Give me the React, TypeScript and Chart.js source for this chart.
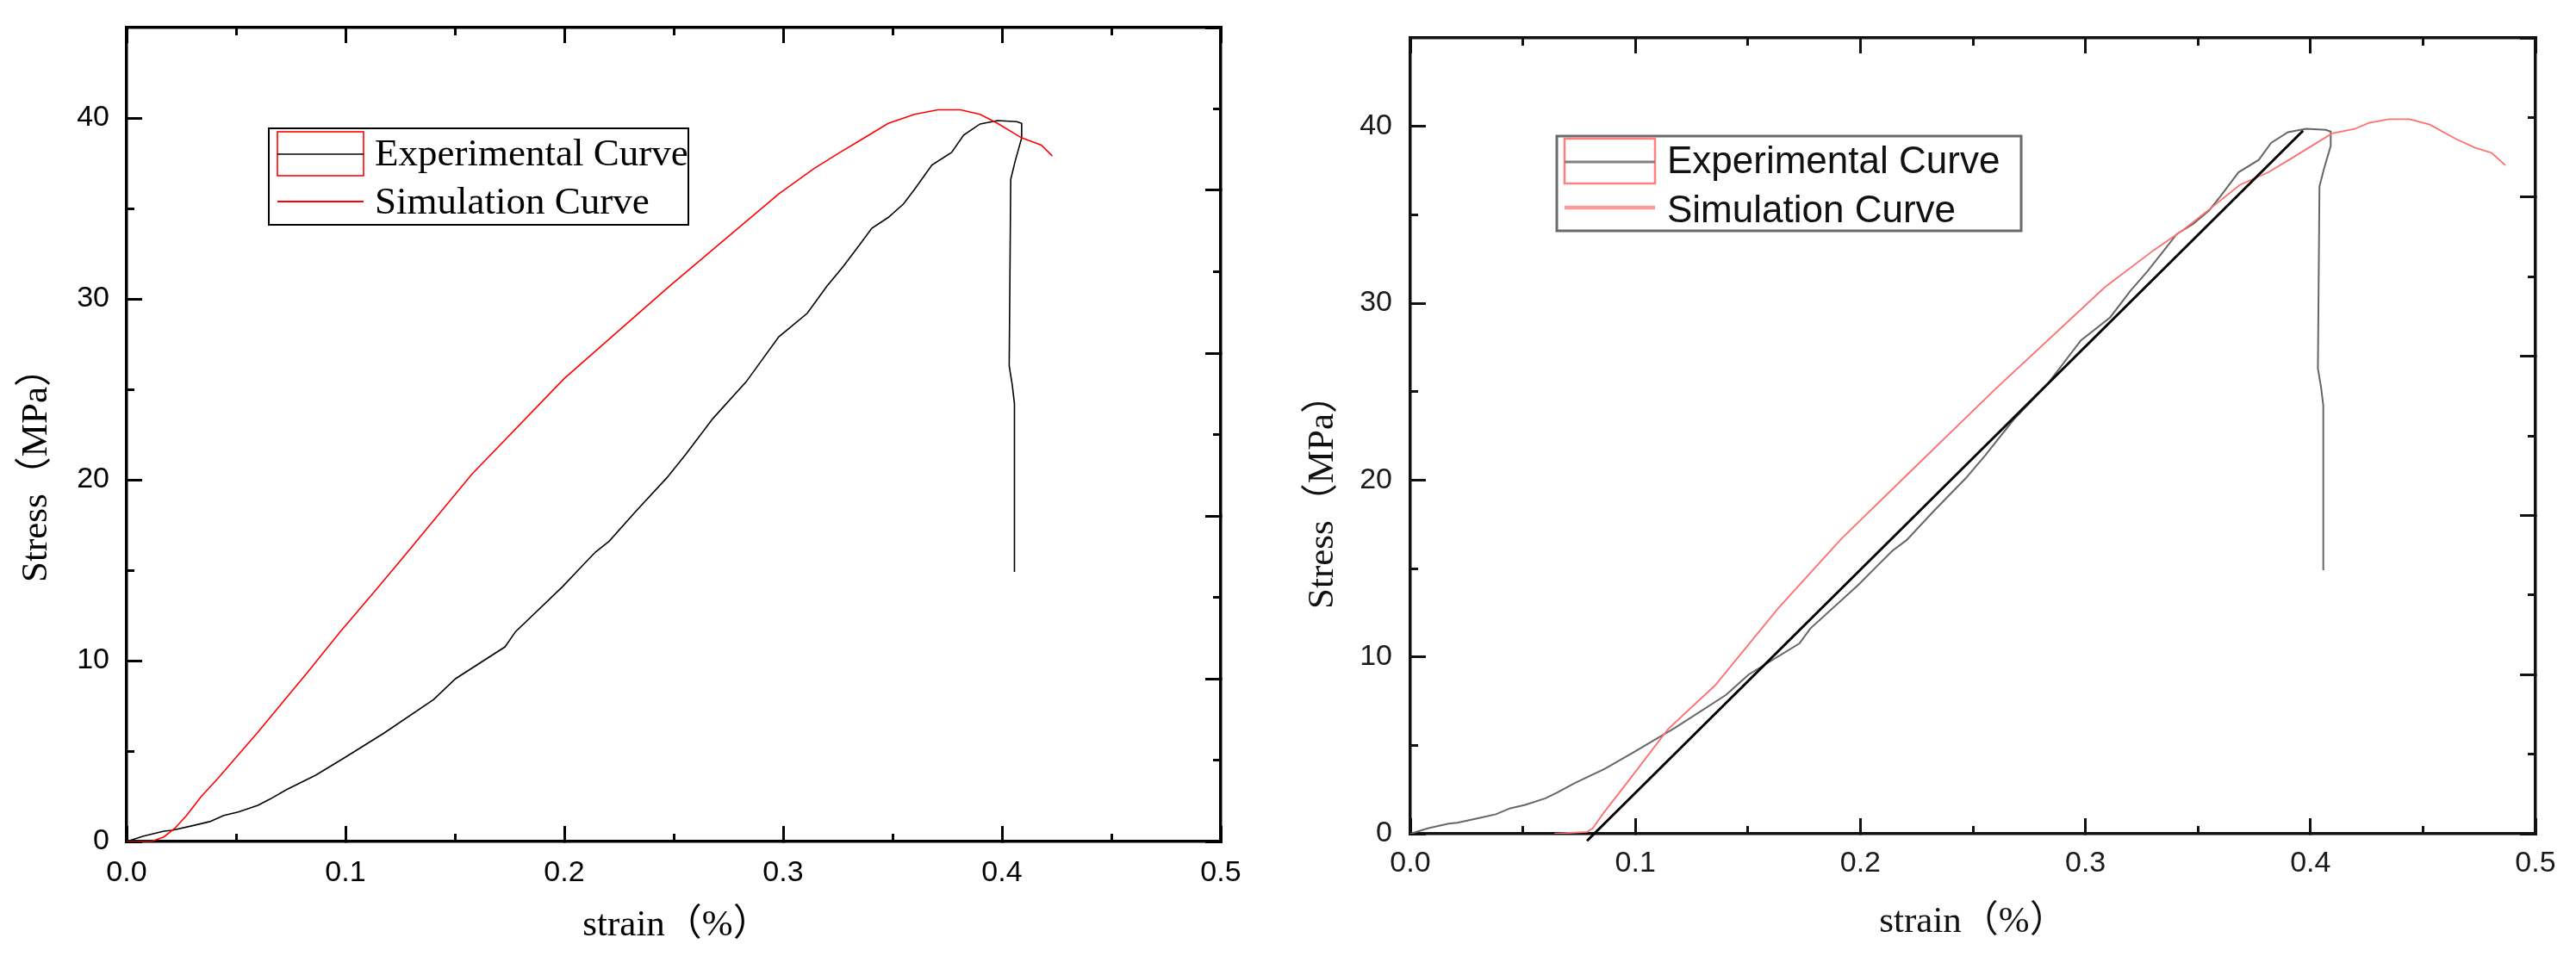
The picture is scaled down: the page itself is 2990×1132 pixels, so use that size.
import React, { useEffect, useRef } from "react";
import { Chart, registerables } from "chart.js";

Chart.register(...registerables);

// ---------- data ----------
// Experimental curve (same measurement in both panels)
const expStrain = [0, 0.0077, 0.017, 0.0208, 0.031, 0.038, 0.0444, 0.051, 0.06, 0.0653, 0.0731, 0.0864, 0.0994, 0.1177, 0.1403, 0.1503, 0.1729, 0.1777, 0.1993, 0.2079, 0.2142, 0.2205, 0.233, 0.2468, 0.2555, 0.268, 0.283, 0.298, 0.311, 0.32, 0.3275, 0.335, 0.3405, 0.348, 0.355, 0.36, 0.368, 0.377, 0.3825, 0.39, 0.398, 0.4068, 0.409, 0.409, 0.406, 0.404, 0.4033, 0.4047, 0.4057, 0.4057];
const expStress = [0, 0.3, 0.57, 0.62, 0.9, 1.1, 1.44, 1.63, 2.0, 2.33, 2.87, 3.67, 4.62, 6.0, 7.85, 9.0, 10.76, 11.6, 14.1, 15.2, 16.0, 16.6, 18.3, 20.1, 21.4, 23.4, 25.4, 27.9, 29.2, 30.7, 31.8, 33.0, 33.9, 34.5, 35.25, 36.05, 37.4, 38.1, 39.06, 39.67, 39.86, 39.8, 39.7, 38.9, 37.6, 36.6, 26.3, 25.25, 24.2, 14.9];

// Simulation curve, left panel
const simStrainA = [0, 0.0117, 0.017, 0.022, 0.0274, 0.034, 0.0418, 0.0496, 0.06, 0.0826, 0.0976, 0.1152, 0.1277, 0.1577, 0.2, 0.248, 0.298, 0.314, 0.326, 0.335, 0.348, 0.36, 0.3707, 0.381, 0.39, 0.398, 0.409, 0.418, 0.423];
const simStressA = [0, 0.02, 0.25, 0.73, 1.44, 2.48, 3.5, 4.6, 6.05, 9.35, 11.6, 14.1, 15.9, 20.3, 25.6, 30.7, 35.8, 37.2, 38.1, 38.75, 39.7, 40.2, 40.45, 40.45, 40.2, 39.7, 38.9, 38.5, 37.9];

// Simulation curve, right panel
const simStrainB = [0.064, 0.0785, 0.081, 0.086, 0.097, 0.1144, 0.1355, 0.1635, 0.1917, 0.2232, 0.2596, 0.3086, 0.3304, 0.343, 0.356, 0.3687, 0.3813, 0.3917, 0.4096, 0.4196, 0.426, 0.435, 0.444, 0.453, 0.4644, 0.473, 0.4805, 0.4866];
const simStressB = [0, 0.1, 0.3, 1.2, 3.0, 5.9, 8.4, 12.75, 16.7, 20.6, 25.1, 30.9, 33.0, 34.1, 35.4, 36.7, 37.4, 38.2, 39.6, 39.85, 40.2, 40.4, 40.4, 40.1, 39.3, 38.8, 38.5, 37.8];

// Straight fitted line, right panel
const fitStrain = [0.0785, 0.3967];
const fitStress = [-0.4, 39.75];

// Ticks and labels
const xTicks = [0, 0.1, 0.2, 0.3, 0.4, 0.5];
const xMinorTicks = [0.05, 0.15, 0.25, 0.35, 0.45];
const yTicks = [0, 10, 20, 30, 40];
const yMinorTicks = [5, 15, 25, 35];
const yRightTicks = [0, 10, 20, 30, 40, 50];
const yRightMinorTicks = [5, 15, 25, 35, 45];
const legendLabels = ["Experimental Curve", "Simulation Curve"];
const xTitle = "strain（%）";
const yTitle = "Stress（MPa）";

// ---------- layout / style ----------
const W = 2990;
const H = 1132;
const SANS = '"Liberation Sans", Arial, sans-serif';
const SERIF = '"Liberation Serif", "Times New Roman", "Noto Sans CJK SC", serif';

const toPts = (xs: number[], ys: number[]) => xs.map((x, i) => ({ x, y: ys[i] }));

const panelA: any = {
  left: 0,
  width: 1500,
  area: { left: 147, right: 1417, top: 32, bottom: 977 },
  xPad: 34,
  yPad: 38,
  axisColor: "#000",
  axisWidth: 3.5,
  tickWidth: 3,
  labelColor: "#000",
  datasets: [
    { label: legendLabels[1], data: toPts(simStrainA, simStressA), borderColor: "#ff0000", borderWidth: 1.6 },
    { label: legendLabels[0], data: toPts(expStrain, expStress), borderColor: "#000000", borderWidth: 1.6 },
  ],
  legend: {
    box: [312, 149, 487, 112], boxColor: "#000", boxWidth: 2,
    sym: [322, 153, 100, 51], symColor: "#ff0000", symWidth: 1.6,
    expLineY: 179, expLineColor: "#000", expLineWidth: 1.6,
    simLineY: 234, simLineColor: "#ff0000", simLineWidth: 2,
    textX: 435, textY: [192, 248], font: `45px ${SERIF}`, textColor: "#000",
  },
  titles: { font: `43px ${SERIF}`, color: "#000", x: [785, 1075], y: [43, 541] },
};

const panelB: any = {
  left: 1500,
  width: 1490,
  area: { left: 137, right: 1443, top: 44, bottom: 968 },
  xPad: 32,
  yPad: 39,
  axisColor: "#111",
  axisWidth: 3.5,
  tickWidth: 3,
  labelColor: "#1a1a1a",
  datasets: [
    { label: "fit", data: toPts(fitStrain, fitStress), borderColor: "#000000", borderWidth: 3, clip: 14 },
    { label: legendLabels[1], data: toPts(simStrainB, simStressB), borderColor: "#ff6f6f", borderWidth: 1.8 },
    { label: legendLabels[0], data: toPts(expStrain, expStress), borderColor: "#666666", borderWidth: 2 },
  ],
  legend: {
    box: [307, 158, 539, 110], boxColor: "#6a6a6a", boxWidth: 3,
    sym: [316, 161, 105, 52], symColor: "#ff8080", symWidth: 2.5,
    expLineY: 188, expLineColor: "#808080", expLineWidth: 3,
    simLineY: 241, simLineColor: "#ff9a9a", simLineWidth: 4.5,
    textX: 435, textY: [201, 258], font: `44px ${SANS}`, textColor: "#111",
  },
  titles: { font: `43px ${SERIF}`, color: "#111", x: [790, 1071], y: [36, 572] },
};

function makeOverlay(p: any) {
  return {
    id: "overlay",
    afterDraw(chart: any) {
      const ctx = chart.ctx;
      const L = p.legend;
      ctx.save();
      // legend frame
      ctx.strokeStyle = L.boxColor;
      ctx.lineWidth = L.boxWidth;
      ctx.strokeRect(L.box[0], L.box[1], L.box[2], L.box[3]);
      // experimental symbol (rectangle + line)
      ctx.strokeStyle = L.symColor;
      ctx.lineWidth = L.symWidth;
      ctx.strokeRect(L.sym[0], L.sym[1], L.sym[2], L.sym[3]);
      ctx.beginPath();
      ctx.strokeStyle = L.expLineColor;
      ctx.lineWidth = L.expLineWidth;
      ctx.moveTo(L.sym[0], L.expLineY);
      ctx.lineTo(L.sym[0] + L.sym[2], L.expLineY);
      ctx.stroke();
      // simulation symbol
      ctx.beginPath();
      ctx.strokeStyle = L.simLineColor;
      ctx.lineWidth = L.simLineWidth;
      ctx.moveTo(L.sym[0], L.simLineY);
      ctx.lineTo(L.sym[0] + L.sym[2], L.simLineY);
      ctx.stroke();
      // legend text
      ctx.fillStyle = L.textColor;
      ctx.font = L.font;
      ctx.textAlign = "left";
      ctx.textBaseline = "alphabetic";
      ctx.fillText(legendLabels[0], L.textX, L.textY[0]);
      ctx.fillText(legendLabels[1], L.textX, L.textY[1]);
      // axis titles
      const T = p.titles;
      ctx.font = T.font;
      ctx.fillStyle = T.color;
      ctx.textAlign = "center";
      ctx.textBaseline = "middle";
      ctx.fillText(xTitle, T.x[0], T.x[1]);
      ctx.translate(T.y[0], T.y[1]);
      ctx.rotate(-Math.PI / 2);
      ctx.fillText(yTitle, 0, 0);
      ctx.restore();
    },
  };
}

function axis(p: any, o: any) {
  const vertical = o.position === "left" || o.position === "right";
  return {
    type: "linear",
    position: o.position,
    min: o.min,
    max: o.max,
    weight: o.weight,
    afterBuildTicks: (s: any) => {
      s.ticks = o.ticks.map((v: number) => ({ value: v }));
    },
    afterFit: (s: any) => {
      if (vertical) s.width = o.size;
      else s.height = o.size;
      // the plot frame is fixed: no extra room for overhanging labels
      s.paddingTop = 0;
      s.paddingBottom = 0;
      s.paddingLeft = 0;
      s.paddingRight = 0;
    },
    grid: {
      display: true,
      drawOnChartArea: false,
      drawTicks: true,
      tickLength: -o.len,
      tickWidth: p.tickWidth,
      tickColor: p.axisColor,
      lineWidth: p.tickWidth,
      color: p.axisColor,
    },
    border: { display: !!o.border, width: p.axisWidth, color: p.axisColor },
    ticks: o.labels
      ? {
          display: true,
          autoSkip: false,
          maxRotation: 0,
          minRotation: 0,
          includeBounds: false,
          padding: o.pad,
          color: p.labelColor,
          font: { family: SANS, size: 34 },
          callback: o.labels,
        }
      : { display: false },
  };
}

function buildConfig(p: any): any {
  const a = p.area;
  const MAJ = 18;
  const MIN = 9;
  return {
    type: "scatter",
    data: {
      datasets: p.datasets.map((d: any) => ({
        ...d,
        showLine: true,
        pointRadius: 0,
        pointHoverRadius: 0,
        fill: false,
        tension: 0,
        xAxisID: "x",
        yAxisID: "y",
      })),
    },
    options: {
      responsive: false,
      maintainAspectRatio: false,
      animation: false,
      devicePixelRatio: 1,
      events: [],
      layout: { padding: 0 },
      plugins: { legend: { display: false }, tooltip: { enabled: false }, title: { display: false } },
      scales: {
        x: axis(p, { position: "bottom", min: 0, max: 0.5, weight: 2, ticks: xTicks, size: H - a.bottom, len: MAJ, border: true, pad: p.xPad, labels: (v: any) => Number(v).toFixed(1) }),
        xMinor: axis(p, { position: "bottom", min: 0, max: 0.5, weight: 1, ticks: xMinorTicks, size: 0, len: MIN }),
        xTop: axis(p, { position: "top", min: 0, max: 0.5, weight: 2, ticks: xTicks, size: a.top, len: MAJ, border: true }),
        xTopMinor: axis(p, { position: "top", min: 0, max: 0.5, weight: 1, ticks: xMinorTicks, size: 0, len: MIN }),
        y: axis(p, { position: "left", min: 0, max: 45, weight: 2, ticks: yTicks, size: a.left, len: MAJ, border: true, pad: p.yPad, labels: (v: any) => String(v) }),
        yMinor: axis(p, { position: "left", min: 0, max: 45, weight: 1, ticks: yMinorTicks, size: 0, len: MIN }),
        yRight: axis(p, { position: "right", min: 0, max: 50, weight: 2, ticks: yRightTicks, size: p.width - a.right, len: MAJ, border: true }),
        yRightMinor: axis(p, { position: "right", min: 0, max: 50, weight: 1, ticks: yRightMinorTicks, size: 0, len: MIN }),
      },
    },
    plugins: [makeOverlay(p)],
  };
}

function Panel({ cfg }: { cfg: any }) {
  const ref = useRef<HTMLCanvasElement | null>(null);
  useEffect(() => {
    if (!ref.current) return;
    const chart = new Chart(ref.current, buildConfig(cfg));
    return () => chart.destroy();
  }, [cfg]);
  return (
    <canvas
      ref={ref}
      width={cfg.width}
      height={H}
      style={{ position: "absolute", left: cfg.left, top: 0, width: cfg.width, height: H, display: "block" }}
    />
  );
}

export default function App() {
  return (
    <div style={{ position: "fixed", left: 0, top: 0, width: W, height: H, background: "#fff", overflow: "hidden" }}>
      <Panel cfg={panelA} />
      <Panel cfg={panelB} />
    </div>
  );
}
